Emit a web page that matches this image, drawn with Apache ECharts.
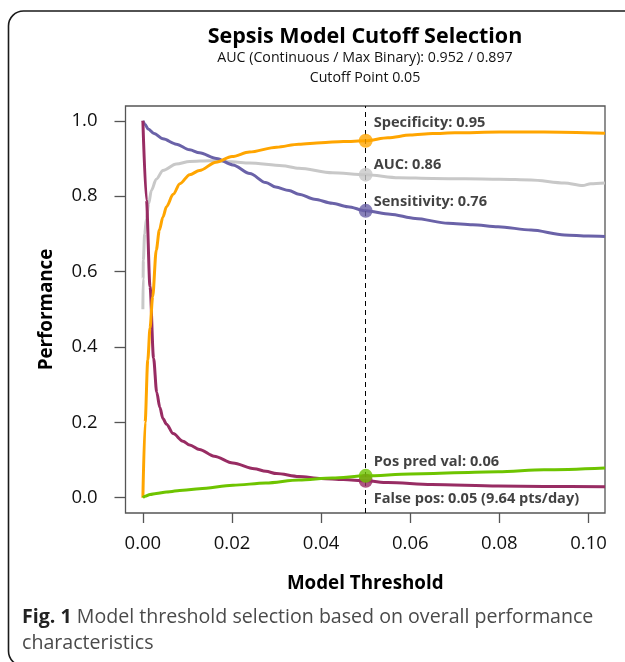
<!DOCTYPE html>
<html><head><meta charset="utf-8">
<script src="https://cdn.jsdelivr.net/npm/echarts@6/dist/echarts.min.js"></script>
<style>html,body{margin:0;padding:0;background:#fff}#c{width:625px;height:662px}</style>
</head><body><div id="c"></div>
<script>
// ---- data ----
const xTicks = [0, 0.02, 0.04, 0.06, 0.08, 0.10];
const yTicks = [0, 0.2, 0.4, 0.6, 0.8, 1.0];

const specificity = [[0,0],[0.0005,0.2],[0.0011,0.365],[0.0016,0.45],[0.0022,0.533],[0.003,0.657],[0.0037,0.71],[0.0045,0.745],[0.0053,0.772],[0.0068,0.805],[0.0083,0.833],[0.0105,0.857],[0.0127,0.868],[0.0164,0.89],[0.02,0.905],[0.0239,0.917],[0.03,0.93],[0.035,0.938],[0.04,0.942],[0.045,0.945],[0.05,0.947],[0.055,0.955],[0.06,0.962],[0.065,0.966],[0.07,0.968],[0.08,0.970],[0.09,0.970],[0.1037,0.967]];

const auc = [[0,0.50],[0.00005,0.58],[0.0001,0.63],[0.0004,0.70],[0.0008,0.74],[0.0013,0.78],[0.0019,0.815],[0.003,0.845],[0.0045,0.868],[0.0075,0.885],[0.0105,0.892],[0.015,0.894],[0.02,0.891],[0.0239,0.888],[0.0313,0.881],[0.035,0.874],[0.0425,0.862],[0.05,0.857],[0.0574,0.849],[0.065,0.847],[0.0723,0.846],[0.08,0.845],[0.0871,0.843],[0.0946,0.835],[0.0987,0.828],[0.1005,0.833],[0.1037,0.835]];

const sensitivity = [[0,1.0],[0.0005,0.99],[0.0012,0.978],[0.0025,0.966],[0.0045,0.952],[0.0075,0.938],[0.0105,0.923],[0.0127,0.915],[0.0165,0.9],[0.0202,0.883],[0.024,0.86],[0.0276,0.836],[0.0298,0.824],[0.0328,0.815],[0.035,0.805],[0.0385,0.792],[0.0425,0.781],[0.046,0.772],[0.05,0.761],[0.0555,0.752],[0.0611,0.741],[0.0685,0.728],[0.074,0.724],[0.0797,0.719],[0.0871,0.710],[0.0946,0.697],[0.1,0.694],[0.1037,0.693]];

const falsePos = [[0,1.0],[0.0008,0.79],[0.0016,0.56],[0.0024,0.37],[0.0031,0.28],[0.0038,0.24],[0.0045,0.21],[0.0053,0.195],[0.0068,0.17],[0.009,0.15],[0.0105,0.14],[0.0127,0.128],[0.016,0.11],[0.0202,0.092],[0.025,0.077],[0.0276,0.07],[0.03,0.064],[0.035,0.056],[0.04,0.051],[0.045,0.048],[0.05,0.045],[0.055,0.04],[0.0648,0.035],[0.0797,0.031],[0.09,0.030],[0.1037,0.029]];

const posPredVal = [[0,0.0],[0.0005,0.004],[0.0016,0.0085],[0.003,0.011],[0.0053,0.015],[0.009,0.02],[0.0127,0.024],[0.0202,0.033],[0.0276,0.039],[0.035,0.047],[0.0425,0.052],[0.05,0.058],[0.06,0.063],[0.0797,0.069],[0.09,0.074],[0.1037,0.079]];

const cutoff = 0.05;
const cutoffNames = ['Specificity', 'AUC', 'Sensitivity', 'False pos', 'Pos pred val'];
const cutoffValues = [0.947, 0.857, 0.761, 0.045, 0.058];
const cutoffTexts = ['Specificity: 0.95', 'AUC: 0.86', 'Sensitivity: 0.76', 'False pos: 0.05 (9.64 pts/day)', 'Pos pred val: 0.06'];

// ---- styles ----
const FONT = 'Open Sans';
const colors = {Specificity:'#FFA500', AUC:'#C8C8C8', Sensitivity:'#6A62A8', 'False pos':'#982C63', 'Pos pred val':'#6EC400'};
const labelOffsets = [[8,-18],[8,-10],[8,-9],[8,18],[8,-14]];

function lineSeries(name, data) {
  return {name, type:'line', data, showSymbol:false, smooth:0.3, smoothMonotone:'x',
    lineStyle:{color:colors[name], width:3}, itemStyle:{color:colors[name]}, silent:true, z:2};
}

const chart = echarts.init(document.getElementById('c'), null, {renderer:'canvas'});
chart.setOption({
  animation:false,
  backgroundColor:'#fff',
  textStyle:{fontFamily:FONT},
  title:{text:'Sepsis Model Cutoff Selection', left:365, textAlign:'center', top:23, padding:0,
    textStyle:{fontFamily:FONT, fontSize:21.5, fontWeight:'bold', color:'#000', lineHeight:28}},
  grid:{left:125.5, top:106, right:20, bottom:149, show:true, borderColor:'#555', borderWidth:1.3},
  xAxis:{type:'value', min:-0.0039, max:0.1037,
    name:'Model Threshold', nameLocation:'middle', nameGap:61,
    nameTextStyle:{fontFamily:FONT, fontSize:18.8, fontWeight:'bold', color:'#000'},
    axisLine:{show:false, onZero:false}, splitLine:{show:false},
    axisTick:{show:true, customValues:xTicks, length:10, lineStyle:{color:'#555', width:1.3}},
    axisLabel:{customValues:xTicks, formatter:v=>v.toFixed(2), margin:21, fontSize:18.5, color:'#111', fontFamily:FONT}},
  yAxis:{type:'value', min:-0.0406, max:1.0392,
    name:'Performance', nameLocation:'middle', nameGap:69, nameRotate:90,
    nameTextStyle:{fontFamily:FONT, fontSize:18.8, fontWeight:'bold', color:'#000'},
    axisLine:{show:false, onZero:false}, splitLine:{show:false},
    axisTick:{show:true, customValues:yTicks, length:11, lineStyle:{color:'#555', width:1.3}},
    axisLabel:{customValues:yTicks, formatter:v=>v.toFixed(1), margin:28, fontSize:18.5, color:'#111', fontFamily:FONT}},
  series:[
    Object.assign(lineSeries('AUC', auc), {markLine:{silent:true, symbol:'none', label:{show:false},
      lineStyle:{color:'#000', width:1, type:[5,4]}, data:[{xAxis:cutoff}]}}),
    lineSeries('Sensitivity', sensitivity),
    lineSeries('False pos', falsePos),
    lineSeries('Specificity', specificity),
    lineSeries('Pos pred val', posPredVal),
    {type:'scatter', z:5, symbolSize:14, silent:true,
      data: cutoffValues.map((v,i)=>({value:[cutoff, v], itemStyle:{color:colors[cutoffNames[i]]},
        label:{show:true, position:'inside', align:'left', verticalAlign:'middle', offset:labelOffsets[i],
          formatter:cutoffTexts[i], fontFamily:FONT, fontSize:14.6, fontWeight:'bold', color:'#111'}}))}
  ],
  graphic:[
    {type:'rect', silent:true, shape:{x:8.5, y:11, width:800, height:655, r:15},
      style:{fill:'none', stroke:'#1a1a1a', lineWidth:1.6}},
    {type:'text', silent:true, x:365, y:58, style:{text:'AUC (Continuous / Max Binary): 0.952 / 0.897',
      fontFamily:FONT, fontSize:14.2, fill:'#111', textAlign:'center', textVerticalAlign:'middle'}},
    {type:'text', silent:true, x:365, y:78, style:{text:'Cutoff Point 0.05',
      fontFamily:FONT, fontSize:14.2, fill:'#111', textAlign:'center', textVerticalAlign:'middle'}},
    {type:'text', silent:true, x:22, y:617, style:{text:'{b|Fig. 1} Model threshold selection based on overall performance',
      fontFamily:FONT, fontSize:19.6, fill:'#4a4a4a', textAlign:'left', textVerticalAlign:'middle',
      rich:{b:{fontFamily:FONT, fontSize:19.6, fontWeight:'bold', fill:'#222'}}}},
    {type:'text', silent:true, x:22, y:643, style:{text:'characteristics',
      fontFamily:FONT, fontSize:19.6, fill:'#4a4a4a', textAlign:'left', textVerticalAlign:'middle'}}
  ]
});
</script></body></html>
